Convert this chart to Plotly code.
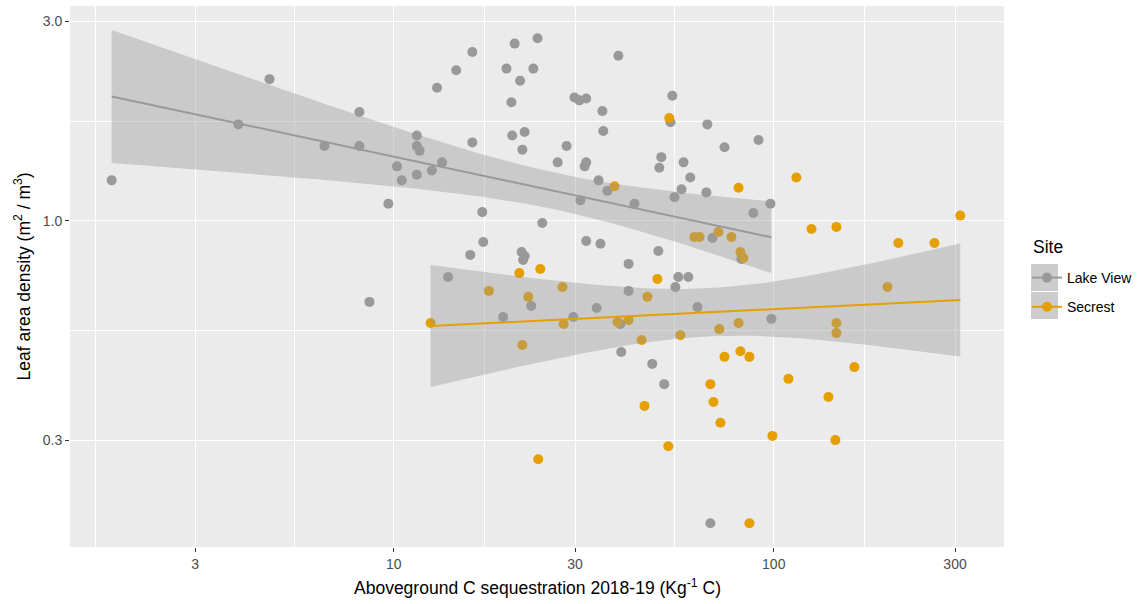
import numpy as np
import plotly.graph_objects as go

# ---------------- data ----------------
site_names = ["Lake View", "Secrest"]
site_colors = ["#999999", "#E69F00"]

lake_view_x = [1.81, 4.71, 3.90, 6.57, 8.12, 8.12, 9.68, 10.2, 10.5, 8.63,
               11.5, 11.5, 11.7, 11.5, 12.6, 13.4, 13.0, 14.6, 16.1, 20.8,
               23.9, 19.8, 23.3, 21.5, 20.4, 16.1, 20.5, 22.1, 21.8, 28.5,
               27.0, 39.0, 29.9, 30.8, 32.1, 35.4, 35.6, 32.1, 31.8, 34.6,
               36.5, 31.0, 43.0, 54.1, 53.5, 66.9, 74.2, 91.2, 50.6, 50.0,
               57.9, 60.3, 57.2, 54.8, 66.5, 88.4, 98.0, 69.0, 82.2, 17.1,
               24.6, 17.2, 15.9, 13.9, 21.7, 22.1, 21.9, 32.1, 35.0, 49.7,
               41.5, 56.1, 59.6, 55.1, 41.5, 19.4, 23.0, 29.7, 34.2, 39.5,
               39.7, 47.9, 51.5, 63.0, 98.6, 68.1]
lake_view_y = [1.25, 2.18, 1.70, 1.51, 1.82, 1.51, 1.10, 1.35, 1.25, 0.641,
               1.60, 1.51, 1.47, 1.29, 1.32, 1.38, 2.08, 2.29, 2.53, 2.65,
               2.73, 2.31, 2.31, 2.16, 1.92, 1.54, 1.60, 1.63, 1.48, 1.51,
               1.38, 2.48, 1.97, 1.94, 1.96, 1.83, 1.64, 1.38, 1.35, 1.25,
               1.18, 1.12, 1.10, 1.99, 1.72, 1.70, 1.50, 1.56, 1.42, 1.34,
               1.38, 1.27, 1.19, 1.14, 1.17, 1.045, 1.10, 0.911, 0.812, 1.05,
               0.989, 0.891, 0.830, 0.735, 0.843, 0.825, 0.807, 0.896, 0.882, 0.848,
               0.790, 0.735, 0.735, 0.696, 0.681, 0.590, 0.627, 0.590, 0.620, 0.568,
               0.487, 0.456, 0.408, 0.623, 0.584, 0.190]

secrest_x = [12.5, 53.1, 38.1, 80.8, 61.8, 63.8, 71.5, 77.4, 81.7, 83.2,
             21.4, 24.3, 49.4, 17.8, 22.6, 27.8, 46.5, 114.7, 125.7, 146.2,
             212.8, 264.8, 309.7, 199.2, 28.0, 38.8, 41.5, 21.8, 44.9, 56.8,
             71.9, 80.8, 74.2, 81.7, 86.3, 68.1, 69.4, 72.4, 45.7, 52.8,
             24.0, 99.2, 86.3, 146.2, 146.2, 163.0, 109.3, 139.3, 145.3]
secrest_y = [0.571, 1.76, 1.21, 1.20, 0.916, 0.916, 0.941, 0.916, 0.843, 0.816,
             0.751, 0.768, 0.727, 0.681, 0.659, 0.696, 0.659, 1.27, 0.957, 0.968,
             0.886, 0.886, 1.03, 0.696, 0.568, 0.574, 0.580, 0.506, 0.520, 0.534,
             0.552, 0.571, 0.474, 0.489, 0.474, 0.408, 0.370, 0.330, 0.362, 0.290,
             0.270, 0.307, 0.190, 0.571, 0.540, 0.448, 0.420, 0.380, 0.300]

x_ticks = [3, 10, 30, 100, 300]
x_tick_labels = ["3", "10", "30", "100", "300"]
y_ticks = [0.3, 1.0, 3.0]
y_tick_labels = ["0.3", "1.0", "3.0"]

# ---------------- helpers ----------------
def t_quantile_975(df):
    z = 1.959963985
    return (z + (z**3 + z) / (4 * df)
            + (5 * z**5 + 16 * z**3 + 3 * z) / (96 * df**2)
            + (3 * z**7 + 19 * z**5 + 17 * z**3 - 15 * z) / (384 * df**3))


def lm_fit(x, y, npts=80):
    X = np.log10(np.asarray(x, float))
    Y = np.log10(np.asarray(y, float))
    n = len(X)
    b, a = np.polyfit(X, Y, 1)
    s = np.sqrt(np.sum((Y - (a + b * X)) ** 2) / (n - 2))
    xs = np.linspace(X.min(), X.max(), npts)
    yh = a + b * xs
    se = s * np.sqrt(1.0 / n + (xs - X.mean()) ** 2 / np.sum((X - X.mean()) ** 2))
    t = t_quantile_975(n - 2)
    return 10 ** xs, 10 ** yh, 10 ** (yh - t * se), 10 ** (yh + t * se)


def minor_between(ticks):
    lt = np.log10(ticks)
    mids = list((lt[:-1] + lt[1:]) / 2)
    first = lt[0] - (lt[1] - lt[0]) / 2
    return [10 ** v for v in [first] + mids]


# ---------------- figure ----------------
fig = go.Figure()
series = [(lake_view_x, lake_view_y), (secrest_x, secrest_y)]

for (xv, yv), name, col in zip(series, site_names, site_colors):
    fig.add_trace(go.Scatter(x=xv, y=yv, mode="markers", name=name,
                             marker=dict(size=10, color=col, line=dict(width=0)),
                             showlegend=False, hoverinfo="x+y"))

for (xv, yv), name, col in zip(series, site_names, site_colors):
    fx, fy, lo, hi = lm_fit(xv, yv)
    fig.add_trace(go.Scatter(x=list(fx) + list(fx[::-1]), y=list(hi) + list(lo[::-1]),
                             mode="lines", fill="toself",
                             fillcolor="rgba(153,153,153,0.4)",
                             line=dict(width=0), showlegend=False, hoverinfo="skip"))
    fig.add_trace(go.Scatter(x=fx, y=fy, mode="lines", line=dict(color=col, width=2),
                             showlegend=False, hoverinfo="skip"))

# legend entries
for i, (name, col) in enumerate(zip(site_names, site_colors)):
    fig.add_trace(go.Scatter(x=[None], y=[None], mode="lines+markers", name=name,
                             legendgroup="g%d" % i,
                             line=dict(color=col, width=2),
                             marker=dict(size=10, color=col)))

W, H = 1144, 604
L, R, T, B = 70, 140, 6, 57
pw, ph = W - L - R, H - T - B

def px_x(p):
    return (p - L) / pw

def px_y(p):
    return (H - B - p) / ph

# grey key backgrounds in legend
shapes = []
for y0, y1 in [(264, 291), (292, 319)]:
    shapes.append(dict(type="rect", xref="paper", yref="paper",
                       x0=px_x(1031), x1=px_x(1058), y0=px_y(y1), y1=px_y(y0),
                       fillcolor="#CCCCCC", line=dict(width=0), layer="below"))

axis_common = dict(type="log", ticks="outside", ticklen=4, tickwidth=1,
                   tickcolor="#333333", tickfont=dict(size=14, color="#4D4D4D"),
                   showgrid=True, gridcolor="white", gridwidth=1.2,
                   zeroline=False, showline=False)

fig.update_layout(
    width=W, height=H,
    margin=dict(l=L, r=R, t=T, b=B, autoexpand=False),
    paper_bgcolor="white", plot_bgcolor="#EBEBEB",
    font=dict(family="Liberation Sans, Arial, sans-serif", color="black"),
    xaxis=dict(range=[0.148, 2.606], tickmode="array", tickvals=x_ticks,
               ticktext=x_tick_labels,
               minor=dict(tickmode="array", tickvals=minor_between(x_ticks),
                          showgrid=True, gridcolor="white", gridwidth=0.6, ticks=""),
               **axis_common),
    yaxis=dict(range=[-0.778, 0.513], tickmode="array", tickvals=y_ticks,
               ticktext=y_tick_labels,
               minor=dict(tickmode="array", tickvals=minor_between(y_ticks),
                          showgrid=True, gridcolor="white", gridwidth=0.6, ticks=""),
               **axis_common),
    legend=dict(x=px_x(1027), xanchor="left", y=px_y(262), yanchor="top",
                font=dict(size=14, color="black"), bgcolor="rgba(0,0,0,0)",
                traceorder="grouped", tracegroupgap=8),
    shapes=shapes,
    annotations=[
        dict(text="Site", xref="paper", yref="paper", x=px_x(1031), y=px_y(247),
             xanchor="left", yanchor="middle", showarrow=False,
             font=dict(size=17.5, color="black")),
        dict(text="Aboveground C sequestration 2018-19 (Kg<sup>-1</sup> C)",
             xref="paper", yref="paper", x=0.5, y=px_y(587), xanchor="center",
             yanchor="middle", showarrow=False, font=dict(size=17.5, color="black")),
        dict(text="Leaf area density (m<sup>2</sup> / m<sup>3</sup>)",
             xref="paper", yref="paper", x=px_x(22), y=0.5, xanchor="center",
             yanchor="middle", textangle=-90, showarrow=False,
             font=dict(size=17.5, color="black")),
    ],
)

fig.write_html("out.html", config={"displayModeBar": False},
               post_script="document.body.style.margin='0px';")
